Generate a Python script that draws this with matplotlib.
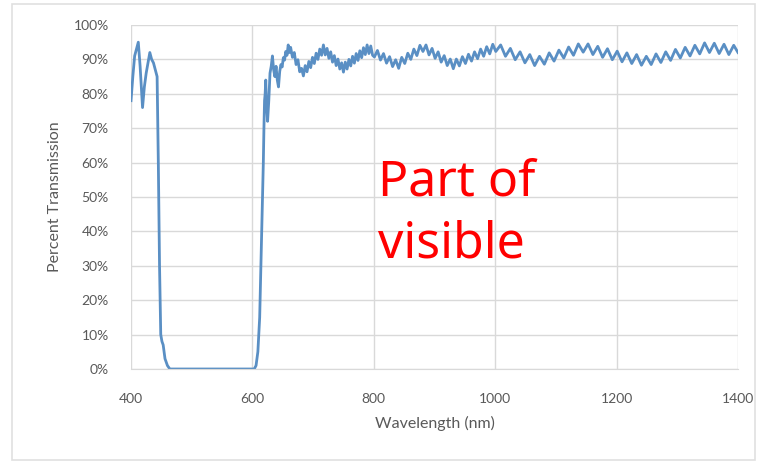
import matplotlib
matplotlib.use("Agg")
import matplotlib.pyplot as plt
from matplotlib.patches import Rectangle
from matplotlib.ticker import PercentFormatter

# transmission spectrum (nm, percent)
wl_block = [400, 403, 406, 409, 412, 415, 419, 422, 425, 428, 431, 434, 437, 440,
            443, 445, 447, 449, 451, 453, 456, 460, 464, 500, 550, 603]
tr_block = [78, 85, 91, 93, 95, 88, 76, 82, 86, 89, 92, 90, 89, 87,
            85, 60, 30, 10, 8, 7, 3, 1, 0, 0, 0, 0]

wl_rise = [606, 609, 612, 614, 616, 618, 619, 620, 621, 622, 623, 625, 627, 629,
           631, 633, 635, 637, 639, 641, 643, 645, 647, 649, 651, 653, 655, 657,
           659, 661, 663, 666, 669, 672, 675, 678, 681, 684, 687, 690, 693, 696,
           699, 702, 705, 708, 711, 714, 717, 720, 723, 726, 729, 732, 735, 738,
           741, 744, 747, 750, 753, 756, 759, 762, 765, 768, 771, 774, 777, 780,
           783, 786, 789, 792, 795, 798]
tr_rise = [1, 5, 15, 30, 45, 60, 70, 78, 80, 84, 78, 72, 78, 86,
           88, 91, 87, 85, 88, 84, 82, 86.5, 88.5, 87.8, 90.5, 89.8, 92.3, 91.2,
           94.2, 92.0, 93.5, 90.6, 92.0, 88.5, 89.9, 86.4, 87.4, 85.2, 88.2, 86.4,
           89.4, 87.6, 90.6, 88.8, 91.8, 90.0, 93.0, 91.2, 94.2, 91.3, 93.2, 90.3,
           92.2, 89.2, 91.1, 88.2, 90.1, 87.2, 89.0, 86.3, 89.2, 87.2, 90.0, 88.1,
           90.9, 88.9, 91.7, 89.7, 92.5, 90.5, 93.4, 91.4, 94.2, 91.7, 93.9, 91.2]

wl_mid = [801, 806, 811, 816, 821, 826, 831, 836, 841, 846, 851, 856, 861, 866,
          871, 876, 881, 886, 891, 896, 901, 906, 911, 916, 921, 926, 931, 936,
          941, 946, 951, 956, 961, 966, 971, 976, 981, 986, 991, 996, 1001]
tr_mid = [90.7, 92.6, 89.8, 91.7, 88.9, 90.8, 87.9, 89.9, 87.4, 90.6, 88.8, 91.8,
          90.0, 93.0, 91.1, 94.1, 92.3, 94.2, 91.3, 93.2, 90.3, 92.2, 89.2, 91.1,
          88.2, 90.1, 87.3, 90.1, 88.1, 90.8, 88.8, 91.5, 89.5, 92.2, 90.2, 93.0,
          90.9, 93.7, 91.6, 94.4, 92.3]

wl_ir = [1009, 1017, 1025, 1033, 1041, 1049, 1057, 1065, 1073, 1081, 1089, 1097,
         1105, 1113, 1121, 1129, 1137, 1145, 1153, 1161, 1169, 1177, 1185, 1193,
         1201, 1209, 1217, 1225, 1233, 1241, 1249, 1257, 1265, 1273, 1281, 1289,
         1297, 1305, 1313, 1321, 1329, 1337, 1345, 1353, 1361, 1369, 1377, 1385,
         1393, 1400]
tr_ir = [94.2, 90.9, 93.2, 89.9, 92.2, 89.0, 91.4, 88.2, 90.9, 88.6, 91.9, 89.5,
         92.7, 90.4, 93.6, 91.2, 94.5, 92.1, 94.5, 91.4, 93.8, 90.6, 93.1, 89.9,
         92.4, 89.3, 91.9, 88.8, 91.4, 88.3, 90.9, 88.5, 91.6, 89.1, 92.2, 89.7,
         92.9, 90.4, 93.5, 91.0, 94.1, 91.6, 94.8, 92.0, 94.7, 91.7, 94.4, 91.4,
         94.1, 92.0]

wavelength = wl_block + wl_rise + wl_mid + wl_ir
transmission = tr_block + tr_rise + tr_mid + tr_ir

x_ticks = [400, 600, 800, 1000, 1200, 1400]
y_ticks = [0, 10, 20, 30, 40, 50, 60, 70, 80, 90, 100]

plt.rcParams["font.family"] = ["Lato", "DejaVu Sans"]
grey_text = "#595959"
grid_col = "#d9d9d9"

fig = plt.figure(figsize=(7.63, 4.62), dpi=100)
fig.patches.append(Rectangle((0.016, 0.004), 0.974, 0.988, transform=fig.transFigure,
                             fill=False, edgecolor="#e0e0e0", linewidth=1.2))
ax = fig.add_axes([0.1717, 0.2013, 0.7955, 0.7446])

ax.plot(wavelength, transmission, color="#5a8fc4", linewidth=2.0)

ax.set_xlim(400, 1400)
ax.set_ylim(0, 100)
ax.set_xticks(x_ticks)
ax.set_yticks(y_ticks)
ax.yaxis.set_major_formatter(PercentFormatter(decimals=0))
ax.grid(True, color=grid_col, linewidth=1)
ax.set_axisbelow(True)
for side in ["top", "right", "left"]:
    ax.spines[side].set_visible(False)
ax.spines["bottom"].set_color(grid_col)
ax.tick_params(length=0, labelsize=10, colors=grey_text)
ax.tick_params(axis="x", pad=17)
ax.tick_params(axis="y", pad=16)

ax.set_xlabel("Wavelength (nm)", fontsize=11.5, color=grey_text, labelpad=8)
ax.set_ylabel("Percent Transmission", fontsize=11.5, color=grey_text, labelpad=8)

fig.text(378 / 763, 1 - 195 / 462, "Part of", color="red", fontsize=36,
         family=["Noto Sans", "DejaVu Sans"], va="baseline", ha="left")
fig.text(378 / 763, 1 - 258 / 462, "visible", color="red", fontsize=36,
         family=["Noto Sans", "DejaVu Sans"], va="baseline", ha="left")

fig.savefig("out.png", dpi=100, facecolor="white")
